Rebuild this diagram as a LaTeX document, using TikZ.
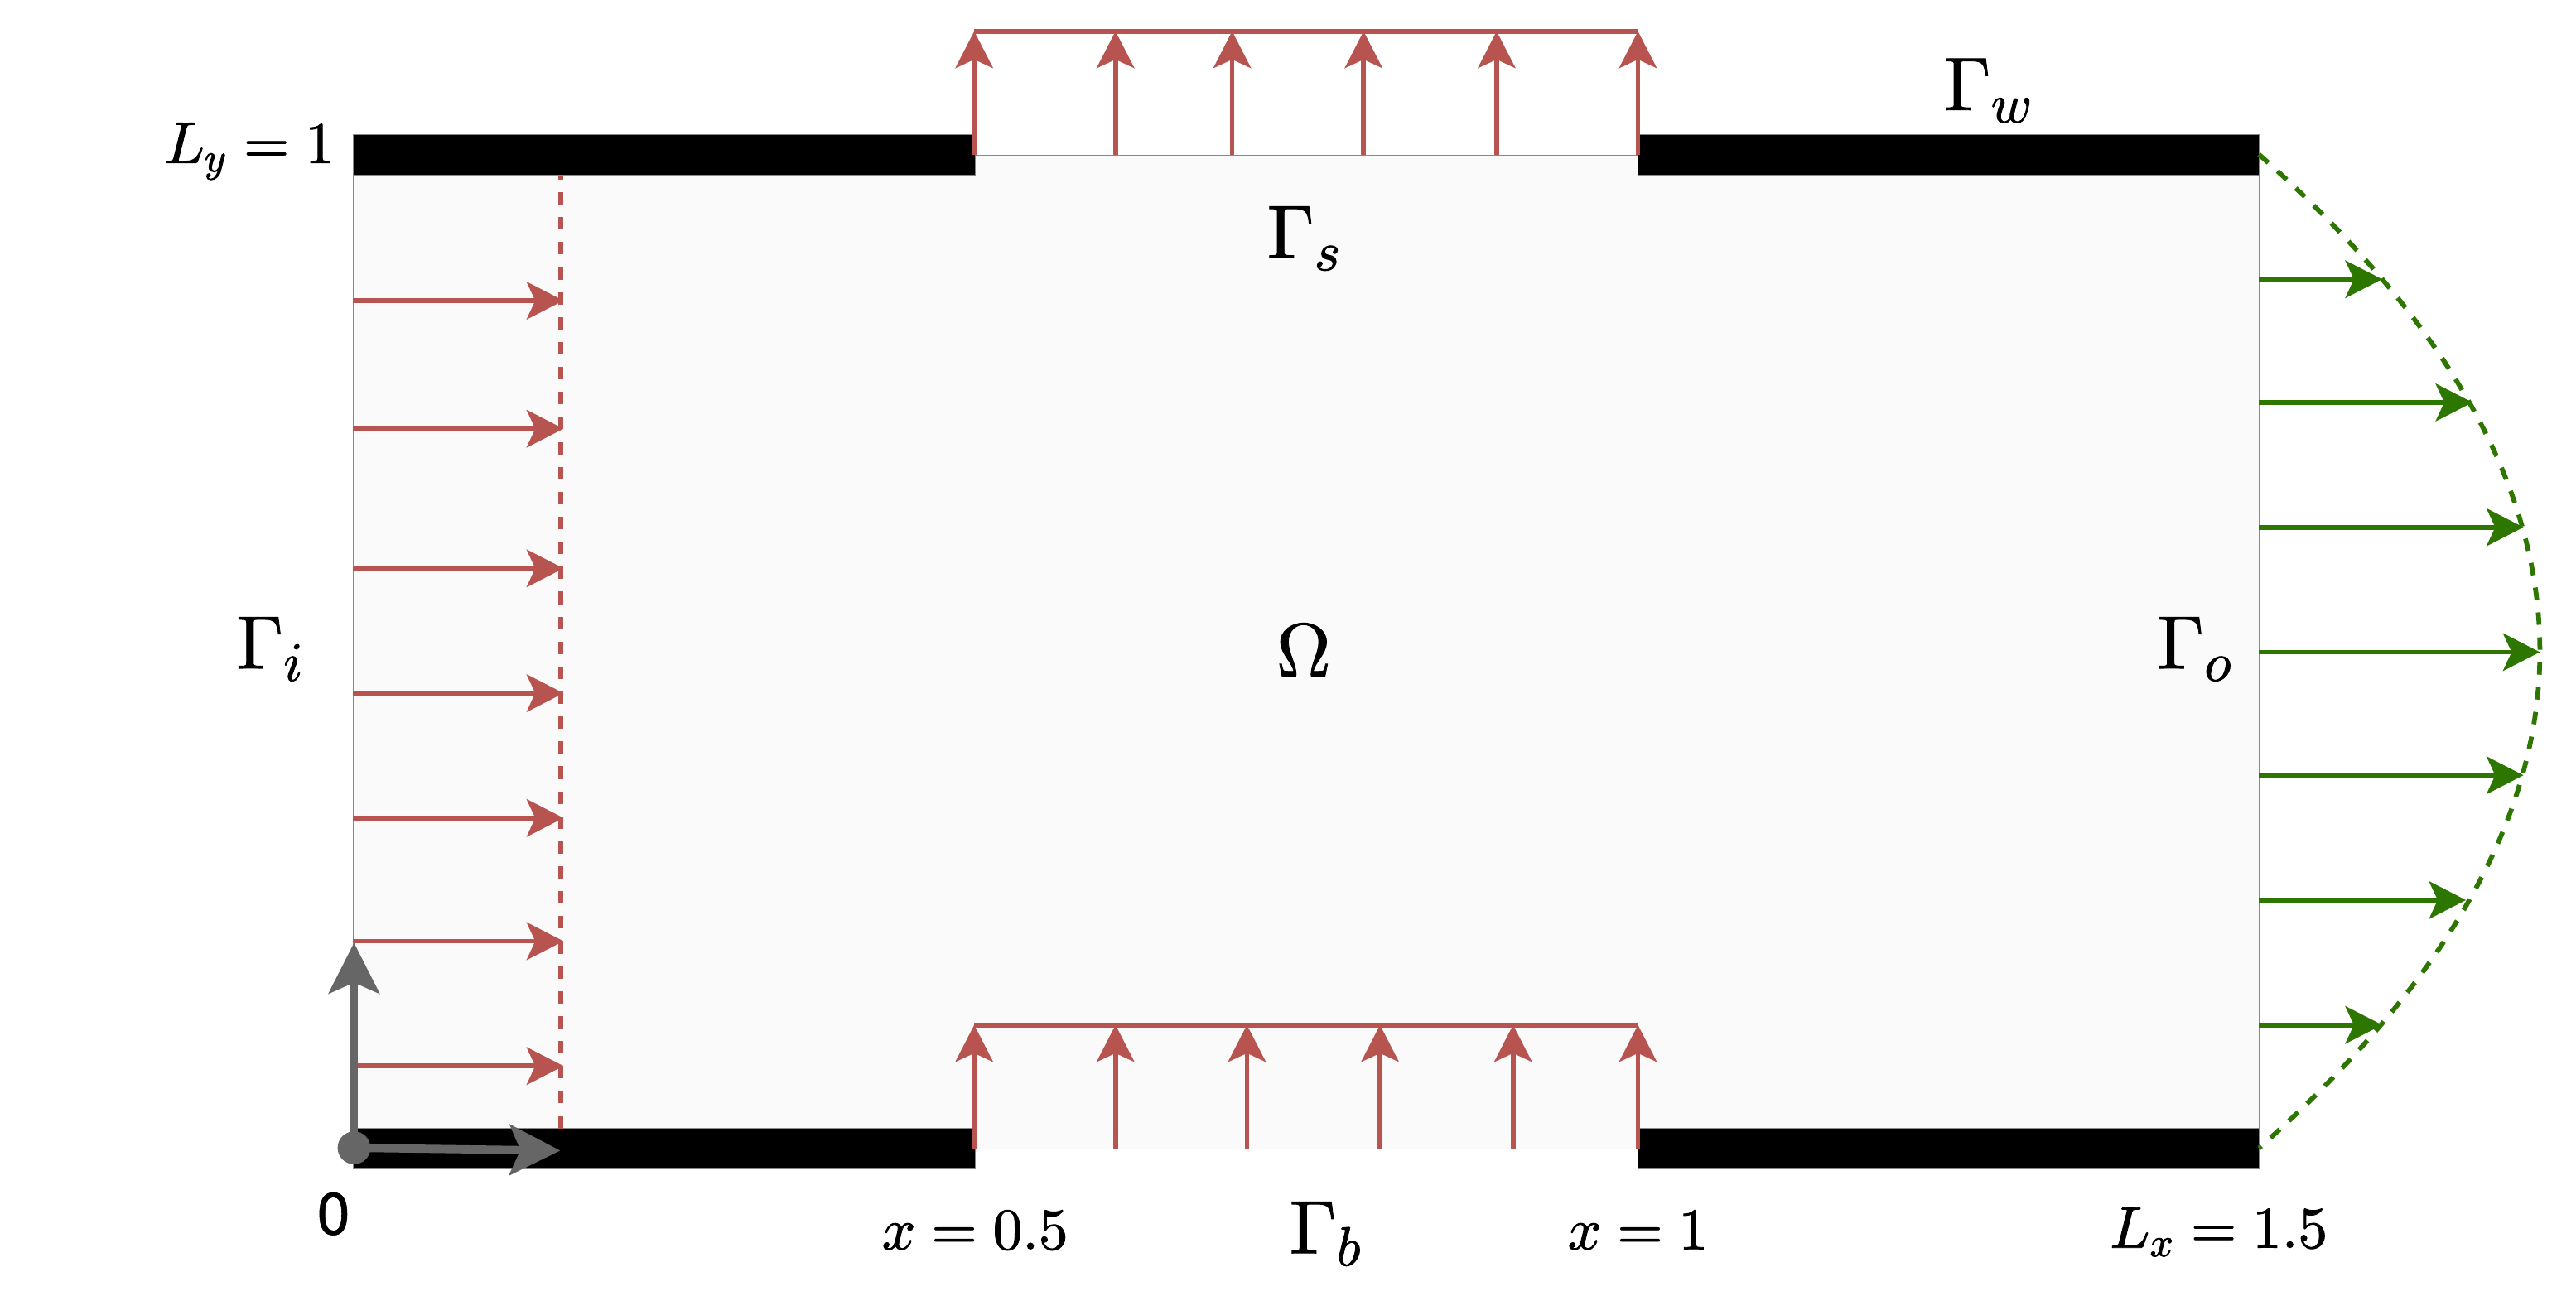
\documentclass[tikz,border=0pt]{standalone}
\usepackage[no-math]{fontspec}
\newfontfamily\labelsans{TeX Gyre Heros}
\usetikzlibrary{arrows.meta}
\DeclareFontFamily{OML}{cmm}{\skewchar\font'177}
\DeclareFontShape{OML}{cmm}{m}{it}{<-> cmmi10}{}
\DeclareFontShape{OT1}{cmr}{m}{n}{<-> cmr10}{}
\DeclareMathSizes{23}{23}{16.8}{12}
\newcommand{\heavytext}[1]{\special{pdf:code 2 Tr 0.22 w}#1\special{pdf:code 0 Tr}}
\definecolor{inred}{HTML}{B85450}
\definecolor{outgreen}{HTML}{2D7600}
\definecolor{axisgray}{HTML}{666666}
\definecolor{domainfill}{HTML}{FAFAFA}
\definecolor{edgegray}{HTML}{888888}
\tikzset{
  domainstyle/.style={fill=domainfill,draw=edgegray,line width=0.3pt},
  wallstyle/.style={fill=black,draw=edgegray,line width=0.3pt},
  flowtip/.style={-{Stealth[length=11.2pt,width=11.4pt,inset=2.6pt]},line width=1.45pt},
  redflow/.style={flowtip,draw=inred,color=inred},
  greenflow/.style={flowtip,draw=outgreen,color=outgreen},
  redline/.style={draw=inred,line width=1.45pt},
  dashprofile/.style={line width=1.45pt,dash pattern=on 3.8pt off 3.8pt},
  axisarrow/.style={-{Stealth[length=15.4pt,width=15.4pt,inset=3.3pt]},line width=2.5pt,draw=axisgray,color=axisgray},
  biglabel/.style={inner sep=0pt,font=\fontsize{23}{27}\selectfont},
  smalllabel/.style={inner sep=0pt,font=\fontsize{17.9}{21}\selectfont},
}
\begin{document}
\begin{tikzpicture}[x=0.5pt,y=-0.5pt]
\useasboundingbox (0,0) rectangle (1568,789);
% domain
\draw[domainstyle] (215,94.5) rectangle (1375,699.5);
% walls
\draw[wallstyle] (215,82) rectangle (593.5,106.7);
\draw[wallstyle] (997,82) rectangle (1375,106.7);
\draw[wallstyle] (215,687) rectangle (593.5,711.5);
\draw[wallstyle] (997,687) rectangle (1375,711.5);
% top suction
\coordinate (topL) at (593,19);
\coordinate (topR) at (997,19);
\draw[redline] (topL) -- (topR);
\foreach \i/\px in {1/593,2/679,3/750,4/830,5/911,6/997}{
  \coordinate (tb\i) at (\px,94.5);
  \coordinate (tt\i) at (\px,19);
  \draw[redflow] (tb\i) -- (tt\i);
}
% bottom blowing
\coordinate (botL) at (593,624);
\coordinate (botR) at (997,624);
\draw[redline] (botL) -- (botR);
\foreach \i/\px in {1/593,2/679,3/759,4/840,5/921,6/997}{
  \coordinate (bb\i) at (\px,699.5);
  \coordinate (bt\i) at (\px,624);
  \draw[redflow] (bb\i) -- (bt\i);
}
% inlet
\coordinate (inB) at (341.5,687);
\coordinate (inT) at (341.5,106.7);
\draw[redline,dashprofile] (inB) -- (inT);
\foreach \i/\py in {1/183,2/261,3/346,4/422,5/498,6/573,7/649}{
  \coordinate (il\i) at (215,\py);
  \coordinate (ir\i) at (343,\py);
  \draw[redflow] (il\i) -- (ir\i);
}
% outlet
\coordinate (outT) at (1375,94);
\coordinate (outB) at (1375,699);
\coordinate (outC1) at (1603,296);
\coordinate (outC2) at (1603,497);
\draw[outgreen,dashprofile] (outT) .. controls (outC1) and (outC2) .. (outB);
\foreach \i/\py/\tx in {1/170/1450,2/245/1505,3/321/1536,4/397/1546,5/472/1536,6/548/1501,7/624/1450}{
  \coordinate (ol\i) at (1375,\py);
  \coordinate (or\i) at (\tx,\py);
  \draw[greenflow] (ol\i) -- (or\i);
}
% axes
\node[circle,fill=axisgray,inner sep=0pt,minimum size=10pt] (origin) at (215.5,698.8) {};
\coordinate (yTip) at (215.5,574);
\coordinate (xTip) at (341,700.5);
\draw[axisarrow] (origin.center) -- (yTip);
\draw[axisarrow] (origin.center) -- (xTip);
% labels
\node[smalllabel,anchor=east] (ly) at (204,92) {\heavytext{$L_y=1$}};
\node[smalllabel] (x05) at (593.5,749) {\heavytext{$x=0.5$}};
\node[smalllabel] (x1) at (997,749) {\heavytext{$x=1$}};
\node[smalllabel] (lx) at (1350.5,750) {\heavytext{$L_x=1.5$}};
\node[biglabel] (gi) at (164.5,395) {\heavytext{$\Gamma_i$}};
\node[biglabel] (gs) at (794,145) {\heavytext{$\Gamma_s$}};
\node[biglabel] (gw) at (1210.5,55) {\heavytext{$\Gamma_w$}};
\node[biglabel] (gb) at (807,751) {\heavytext{$\Gamma_b$}};
\node[biglabel] (go) at (1336,395) {\heavytext{$\Gamma_o$}};
\node[biglabel] (om) at (793.5,396) {\heavytext{$\Omega$}};
\node[inner sep=0pt,font=\labelsans\fontsize{18}{21}\selectfont] (zero) at (203,739) {\special{pdf:code 2 Tr 0.14 w}0\special{pdf:code 0 Tr}};
\end{tikzpicture}
\end{document}
